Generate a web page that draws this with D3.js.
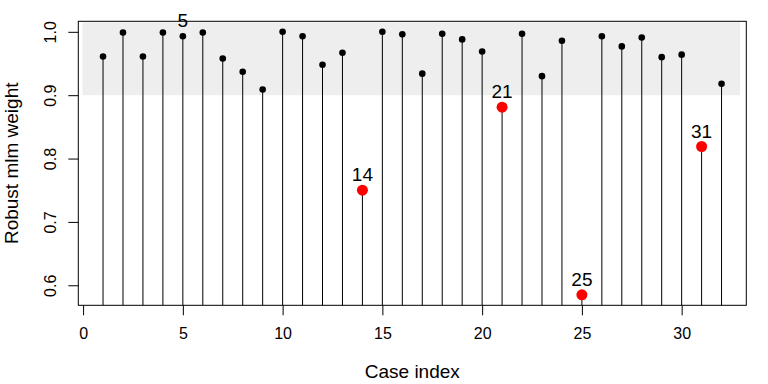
<!DOCTYPE html>
<html>
<head>
<meta charset="utf-8">
<script src="https://cdn.jsdelivr.net/npm/d3@7"></script>
<style>
  body { margin: 0; background: #fff; }
  text { font-family: "Liberation Sans", Arial, sans-serif; fill: #000; }
</style>
</head>
<body>
<div id="chart"></div>
<script>
// case index 1..32 and robust mlm weights
const cases = d3.range(1, 33);
const weights = [0.961, 0.999, 0.961, 0.999, 0.993, 0.999, 0.958, 0.937,
                 0.909, 1.000, 0.993, 0.948, 0.967, 0.750, 1.000, 0.996,
                 0.934, 0.997, 0.988, 0.969, 0.881, 0.997, 0.930, 0.986,
                 0.585, 0.993, 0.977, 0.991, 0.960, 0.964, 0.819, 0.918];
const outliers = [14, 21, 25, 31];
const labelled = [5, 14, 21, 25, 31];
const xTicks = [0, 5, 10, 15, 20, 25, 30];
const yTicks = [0.6, 0.7, 0.8, 0.9, 1.0];
const bandX = [-0.03, 32.93];
const bandLow = 0.9;

const width = 768, height = 384;
const margin = { top: 21.3, right: 21.7, bottom: 78.7, left: 78.3 };

const data = cases.map((c, i) => ({ c, w: weights[i], out: outliers.includes(c) }));

// R style 4% padding of the data range
const pad = (lo, hi) => [lo - (hi - lo) * 0.04, hi + (hi - lo) * 0.04];

const x = d3.scaleLinear()
  .domain(pad(d3.min(cases), d3.max(cases)))
  .range([margin.left, width - margin.right]);

const y = d3.scaleLinear()
  .domain(pad(d3.min(weights), d3.max(weights)))
  .range([height - margin.bottom, margin.top]);

const svg = d3.select("#chart")
  .append("svg")
  .attr("width", width)
  .attr("height", height);

svg.append("defs").append("clipPath")
  .attr("id", "clip")
  .append("rect")
  .attr("x", margin.left)
  .attr("y", margin.top)
  .attr("width", width - margin.left - margin.right)
  .attr("height", height - margin.top - margin.bottom);

const plot = svg.append("g").attr("clip-path", "url(#clip)");

plot.append("rect")
  .attr("x", x(bandX[0]))
  .attr("y", margin.top + 1)
  .attr("width", x(bandX[1]) - x(bandX[0]))
  .attr("height", y(bandLow) - margin.top - 1)
  .style("fill", "#eeeeee");

plot.selectAll("line.stem")
  .data(data)
  .enter()
  .append("line")
  .attr("class", "stem")
  .attr("x1", d => x(d.c))
  .attr("x2", d => x(d.c))
  .attr("y1", height - margin.bottom)
  .attr("y2", d => y(d.w))
  .style("stroke", "#000")
  .style("stroke-width", 1);

plot.selectAll("circle")
  .data(data)
  .enter()
  .append("circle")
  .attr("cx", d => x(d.c))
  .attr("cy", d => y(d.w))
  .attr("r", d => d.out ? 5.5 : 3.3)
  .style("fill", d => d.out ? "#ff0000" : "#000");

svg.selectAll("text.lab")
  .data(data.filter(d => labelled.includes(d.c)))
  .enter()
  .append("text")
  .attr("class", "lab")
  .attr("x", d => x(d.c))
  .attr("y", d => y(d.w) - 9)
  .attr("text-anchor", "middle")
  .style("font-size", "19px")
  .text(d => d.c);

// box
svg.append("rect")
  .attr("x", margin.left)
  .attr("y", margin.top)
  .attr("width", width - margin.left - margin.right)
  .attr("height", height - margin.top - margin.bottom)
  .style("fill", "none")
  .style("stroke", "#000")
  .style("stroke-width", 1);

const xAxis = svg.append("g")
  .attr("transform", `translate(0,${height - margin.bottom})`)
  .call(d3.axisBottom(x).tickValues(xTicks).tickSize(10).tickSizeOuter(0).tickFormat(d3.format("d")));

xAxis.select(".domain").remove();
xAxis.selectAll("line").style("stroke", "#000");
xAxis.selectAll("text")
  .attr("y", 34)
  .attr("dy", null)
  .style("font-size", "16px")
  .style("font-family", "Liberation Sans, Arial, sans-serif");

const yAxis = svg.append("g")
  .attr("transform", `translate(${margin.left},0)`)
  .call(d3.axisLeft(y).tickValues(yTicks).tickSize(10).tickSizeOuter(0).tickFormat(d3.format(".1f")));

yAxis.select(".domain").remove();
yAxis.selectAll("line").style("stroke", "#000");
yAxis.selectAll("text")
  .attr("x", null)
  .attr("dy", null)
  .attr("transform", "translate(-22.3,0) rotate(-90)")
  .attr("text-anchor", "middle")
  .style("font-size", "16px")
  .style("font-family", "Liberation Sans, Arial, sans-serif");

svg.append("text")
  .attr("x", (margin.left + width - margin.right) / 2)
  .attr("y", 378)
  .attr("text-anchor", "middle")
  .style("font-size", "19px")
  .text("Case index");

svg.append("text")
  .attr("transform", `translate(18,${(margin.top + height - margin.bottom) / 2}) rotate(-90)`)
  .attr("text-anchor", "middle")
  .style("font-size", "19px")
  .text("Robust mlm weight");
</script>
</body>
</html>
